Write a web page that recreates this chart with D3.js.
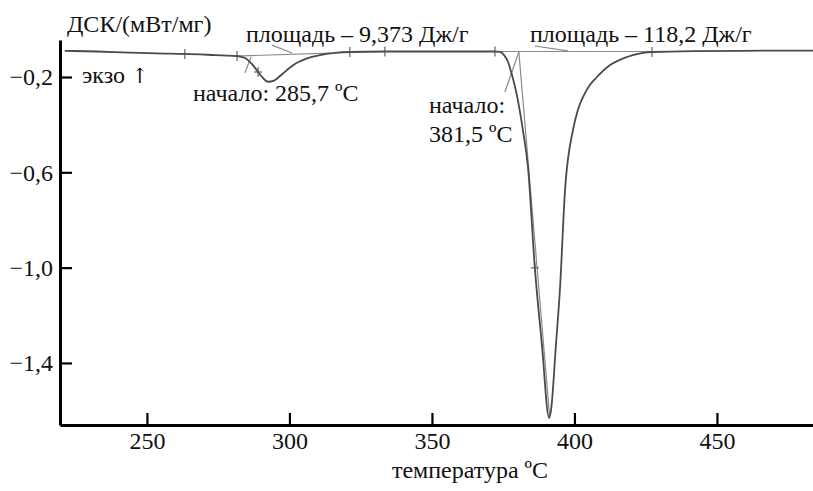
<!DOCTYPE html>
<html>
<head>
<meta charset="utf-8">
<script src="https://cdn.jsdelivr.net/npm/d3@7"></script>
<style>
  body { margin: 0; background: #fff; }
  svg { display: block; }
  text { font-family: "Liberation Serif", "DejaVu Serif", "Times New Roman", serif; fill: #111; }
</style>
</head>
<body>
<div id="chart"></div>
<script>
// DSC curve (temperature in ºC, DSC in mW/mg)
const temperature = [221.2, 232.5, 244.0, 253.5, 263.3, 273.9, 281.6, 284.4, 286.8, 289.0,
    290.7, 292.5, 294.6, 296.7, 299.1, 301.9, 304.7, 307.9, 310.7, 316.0,
    321.2, 333.5, 352.8, 372.1, 373.9, 375.3, 376.7, 378.1, 379.8, 381.9,
    383.7, 386.1, 388.6, 391.1, 391.8, 393.5, 394.9, 396.7, 399.5, 401.2,
    403.0, 405.4, 407.9, 412.5, 418.4, 424.0, 427.2, 444.0, 458.1, 483.7];
const dsc = [-0.090, -0.093, -0.098, -0.101, -0.103, -0.108, -0.112, -0.120, -0.145, -0.179,
    -0.204, -0.220, -0.215, -0.196, -0.171, -0.145, -0.129, -0.116, -0.108, -0.099,
    -0.095, -0.093, -0.093, -0.093, -0.095, -0.108, -0.137, -0.192, -0.276, -0.422,
    -0.578, -1.001, -1.325, -1.631, -1.597, -1.325, -1.094, -0.674, -0.422, -0.338,
    -0.284, -0.234, -0.200, -0.150, -0.116, -0.099, -0.095, -0.091, -0.090, -0.089];

// small "+" marks the instrument put on the curve
const markT = [263.3, 281.6, 289.0, 321.2, 333.5, 372.1, 386.1, 427.2];

const xTicks = [250, 300, 350, 400, 450];
const yTicks = [-0.2, -0.6, -1.0, -1.4];

// construction lines: [t1, v1, t2, v2]
const guideLines = [
    [281.6, -0.112, 314.0, -0.100],   // baseline under first peak
    [284.4, -0.183, 286.5, -0.116],   // onset tangent 1
    [293.9, -0.066, 300.9, -0.099],   // label leader 1
    [375.6, -0.263, 380.5, -0.095],   // onset tangent 2
    [380.5, -0.095, 391.3, -1.625],   // steep tangent
    [372.1, -0.093, 427.2, -0.093],   // baseline under second peak
    [386.1, -0.070, 397.7, -0.090]    // label leader 2
];

const width = 813,
    height = 491,
    serif = '"Liberation Serif", "DejaVu Serif", "Times New Roman", serif';

const x = d3.scaleLinear().domain([219.5, 483.7]).range([60, 813]);
const y = d3.scaleLinear().domain([-0.0447, -1.6604]).range([40, 425]);

const svg = d3.select('#chart').append('svg')
    .attr('width', width)
    .attr('height', height)
    .attr('font-family', serif);

const fmt = d => d3.format('.1f')(d).replace('-', '–').replace('.', ',');

// axes
const gx = svg.append('g')
    .attr('transform', 'translate(0,425)')
    .call(d3.axisBottom(x).tickValues(xTicks).tickSizeInner(-12).tickSizeOuter(0).tickPadding(7));
const gy = svg.append('g')
    .attr('transform', 'translate(60,0)')
    .call(d3.axisLeft(y).tickValues(yTicks).tickFormat(fmt).tickSizeInner(-12).tickSizeOuter(0).tickPadding(7));

[gx, gy].forEach(g => {
    g.attr('font-family', serif).attr('font-size', 24);
    g.select('.domain').attr('stroke', '#000').attr('stroke-width', 3);
    g.selectAll('.tick line').attr('stroke', '#000').attr('stroke-width', 2.2);
    g.selectAll('.tick text').attr('fill', '#111');
});

// guide lines
svg.append('g')
    .selectAll('line')
    .data(guideLines)
    .join('line')
    .attr('x1', d => x(d[0]))
    .attr('y1', d => y(d[1]))
    .attr('x2', d => x(d[2]))
    .attr('y2', d => y(d[3]))
    .attr('stroke', '#8a8a8a')
    .attr('stroke-width', 1.2);

// curve
const pts = temperature.map((t, i) => [t, dsc[i]]);
const line = d3.line()
    .x(d => x(d[0]))
    .y(d => y(d[1]))
    .curve(d3.curveMonotoneX);

svg.append('path')
    .datum(pts)
    .attr('d', line)
    .attr('fill', 'none')
    .attr('stroke', '#4a4a4a')
    .attr('stroke-width', 1.8);

// "+" marks, placed on the interpolated curve
const interp = t => {
    const i = d3.bisectLeft(temperature, t);
    if (i <= 0) return dsc[0];
    const t0 = temperature[i - 1], t1 = temperature[i];
    return dsc[i - 1] + (dsc[i] - dsc[i - 1]) * (t - t0) / (t1 - t0);
};
const marks = svg.append('g')
    .attr('stroke', '#555')
    .attr('stroke-width', 1.1);
markT.forEach(t => {
    const cx = x(t), cy = y(interp(t));
    marks.append('line').attr('x1', cx).attr('x2', cx).attr('y1', cy - 5).attr('y2', cy + 5);
    marks.append('line').attr('x1', cx - 4).attr('x2', cx + 4).attr('y1', cy).attr('y2', cy);
});

// texts
const label = (tx, ty, s, size) => svg.append('text')
    .attr('x', tx)
    .attr('y', ty)
    .attr('font-size', size || 24)
    .text(s);

label(67, 32, 'ДСК/(мВт/мг)', 24);
const ekzo = label(82, 83, 'экзо ', 24);
ekzo.append('tspan')
    .attr('font-family', '"DejaVu Serif", "DejaVu Sans", serif')
    .attr('font-size', 21)
    .attr('fill', '#111')
    .text('↑');
label(246, 42, 'площадь – 9,373 Дж/г', 24);
label(530, 42, 'площадь – 118,2 Дж/г', 24);
label(193, 101, 'начало: 285,7 ºC', 24);
label(429, 113, 'начало:', 24);
label(429, 142, '381,5 ºC', 24);

svg.append('text')
    .attr('x', 470)
    .attr('y', 478)
    .attr('text-anchor', 'middle')
    .attr('font-size', 24)
    .text('температура ºC');
</script>
</body>
</html>
